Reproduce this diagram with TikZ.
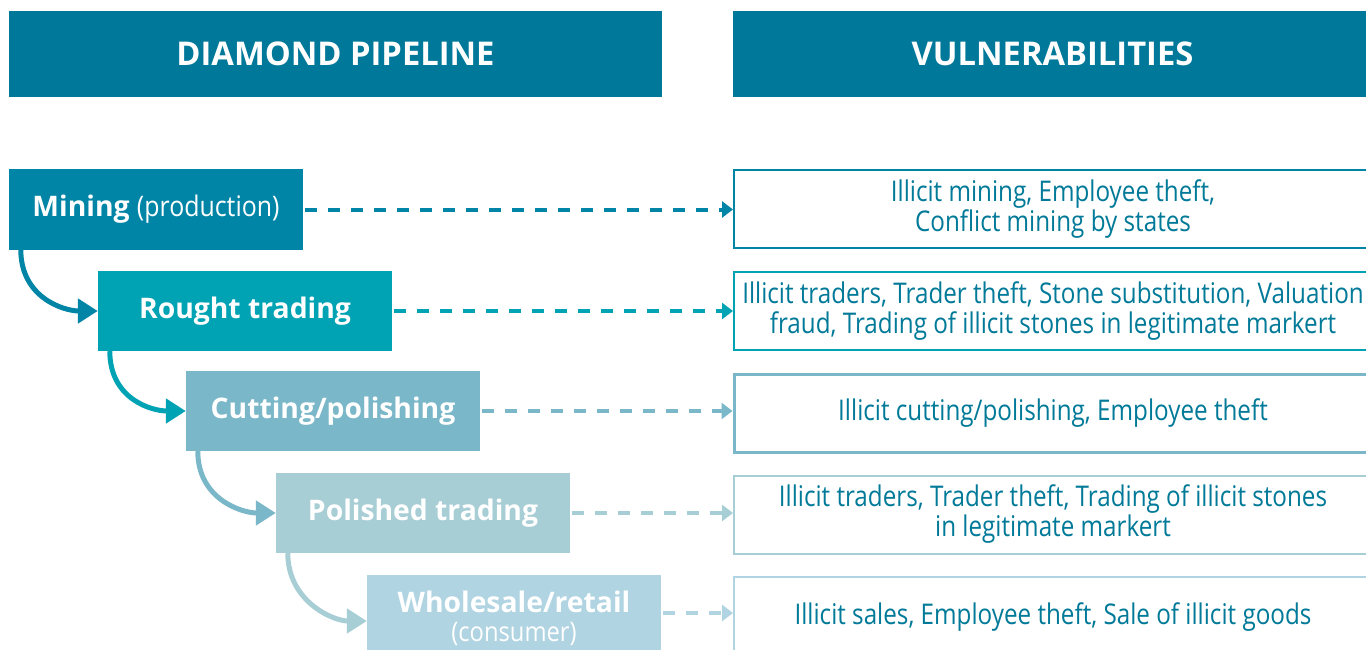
\documentclass[tikz,border=0pt]{standalone}
\usepackage{fontspec}
\setmainfont{Open Sans}
\newfontfamily\condfont[FakeStretch=0.85]{Open Sans}
\newfontfamily\semicond[FakeStretch=0.88]{Open Sans}
\usetikzlibrary{arrows.meta}
\definecolor{hdr}{RGB}{0,120,153}
\definecolor{cA}{RGB}{0,133,166}
\definecolor{cB}{RGB}{0,163,180}
\definecolor{cC}{RGB}{122,183,200}
\definecolor{cD}{RGB}{168,206,213}
\definecolor{cE}{RGB}{176,212,225}
\definecolor{vtext}{RGB}{0,122,152}
\tikzset{
  header/.style={fill=hdr, text=white, minimum width=653pt, minimum height=86pt, inner sep=0pt, font=\fontsize{32.7}{33}\selectfont\bfseries},
  stage/.style={fill=#1, text=white, minimum width=294pt, minimum height=80pt, inner sep=0pt, font=\fontsize{28.3}{25}\selectfont\bfseries, align=center},
  vuln/.style={draw=#1, line width=2pt, fill=white, minimum width=638pt, minimum height=78pt, inner sep=0pt, text=vtext, font=\condfont\fontsize{28.5}{30}\selectfont, align=center},
  dashconn/.style={draw=#1, line width=4pt, dash pattern=on 12pt off 11pt, -{Triangle[length=11pt,width=16pt,fill=#1]}},
  flow/.style={draw=#1, line width=5pt, -{Triangle[length=20pt,width=24pt,fill=#1]}}
}
\begin{document}
\begin{tikzpicture}[x=1pt,y=-1pt]
\useasboundingbox[fill=white] (0,0) rectangle (1366,650);
% headers
\node[header] (h1) at (335.5,54) {DIAMOND PIPELINE};
\node[header, minimum width=639pt] (h2) at (1052.5,54) {VULNERABILITIES};
% stages
\node[stage=cA] (s1) at (156,209.5) {Mining {\semicond\mdseries(production)}};
\node[stage=cB] (s2) at (245,311) {Rought trading};
\node[stage=cC] (s3) at (333,411) {Cutting/polishing};
\node[stage=cD] (s4) at (423,513) {Polished trading};
\node[stage=cE] (s5) at (514,615) {};
\node[text=white, font=\fontsize{28.3}{25}\selectfont\bfseries, inner sep=0pt] (s5a) at (514,602) {Wholesale/retail};
\node[text=white, font=\semicond\fontsize{27}{25}\selectfont, inner sep=0pt] (s5b) at (514,634) {(consumer)};
% vulnerabilities
\node[vuln=cA] (v1) at (1053,209) {Illicit mining, Employee theft,\\Conflict mining by states};
\node[vuln=cB] (v2) at (1053,311) {Illicit traders, Trader theft, Stone substitution, Valuation\\fraud, Trading of illicit stones in legitimate markert};
\node[vuln=cC, line width=3pt, minimum height=78pt] (v3) at (1053,413) {Illicit cutting/polishing, Employee theft};
\node[vuln=cD] (v4) at (1053,514.5) {Illicit traders, Trader theft, Trading of illicit stones\\in legitimate markert};
\node[vuln=cE, minimum height=80pt] (v5) at (1053,617) {Illicit sales, Employee theft, Sale of illicit goods};
% dashed connectors
\draw[dashconn=cA] ([xshift=2pt]s1.east) -- (s1.east -| v1.west);
\draw[dashconn=cB] ([xshift=2pt]s2.east) -- (s2.east -| v2.west);
\draw[dashconn=cC] ([xshift=2pt]s3.east) -- (s3.east -| v3.west);
\draw[dashconn=cD] ([xshift=2pt]s4.east) -- (s4.east -| v4.west);
\draw[dashconn=cE] ([xshift=2pt,yshift=2pt]s5.east) -- ([yshift=2pt]s5.east -| v5.west);
% flow arrows
\coordinate (a1) at ([xshift=12pt]s1.south west);
\coordinate (a2) at ([xshift=12pt]s2.south west);
\coordinate (a3) at ([xshift=12pt]s3.south west);
\coordinate (a4) at ([xshift=12pt]s4.south west);
\draw[flow=cA] (a1) .. controls ++(0,48) and ++(-34,0) .. (s2.west);
\draw[flow=cB] (a2) .. controls ++(0,48) and ++(-34,0) .. (s3.west);
\draw[flow=cC] (a3) .. controls ++(0,48) and ++(-34,0) .. (s4.west);
\draw[flow=cD] (a4) .. controls ++(0,48) and ++(-34,0) .. ([yshift=-6pt]s5.west);
\end{tikzpicture}
\end{document}
